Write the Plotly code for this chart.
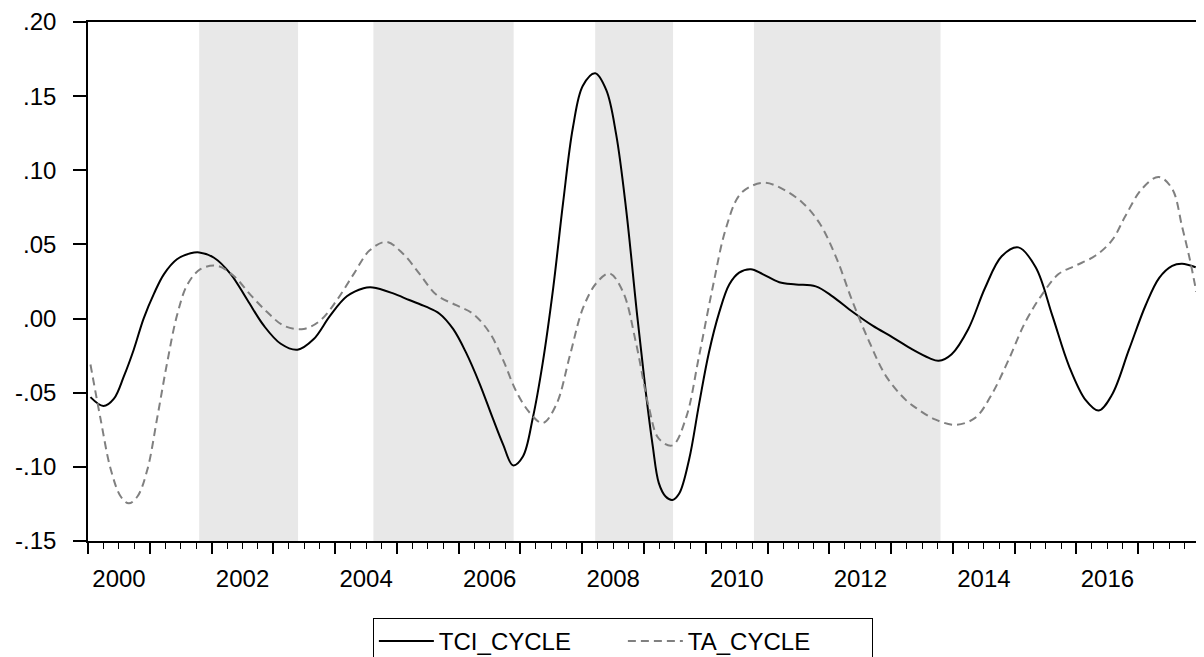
import plotly.graph_objects as go

# ---- data (decimal years) ----
tci_x = [2000.04, 2000.25, 2000.42, 2000.58, 2000.74, 2000.90, 2001.07, 2001.23, 2001.44, 2001.66,
         2001.80, 2002.04, 2002.31, 2002.58, 2002.85, 2003.12, 2003.39, 2003.65, 2003.92, 2004.19,
         2004.46, 2004.61, 2004.94, 2005.20, 2005.47, 2005.69, 2005.91, 2006.12, 2006.34, 2006.55,
         2006.72, 2006.88, 2007.04, 2007.20, 2007.36, 2007.53, 2007.69, 2007.85, 2008.01, 2008.21,
         2008.39, 2008.55, 2008.71, 2008.89, 2009.03, 2009.14, 2009.24, 2009.35, 2009.46, 2009.57,
         2009.73, 2009.89, 2010.05, 2010.22, 2010.38, 2010.54, 2010.73, 2010.92, 2011.19, 2011.46,
         2011.78, 2012.05, 2012.38, 2012.70, 2013.03, 2013.35, 2013.62, 2013.77, 2013.98, 2014.25,
         2014.52, 2014.79, 2015.06, 2015.34, 2015.61, 2015.88, 2016.15, 2016.36, 2016.58, 2016.85,
         2017.12, 2017.34, 2017.55, 2017.71, 2017.93]
tci_cycle = [-0.053, -0.059, -0.054, -0.039, -0.021, 0.000, 0.017, 0.030, 0.040, 0.044,
             0.0446, 0.041, 0.030, 0.0125, -0.005, -0.017, -0.021, -0.014, 0.002, 0.015,
             0.0205, 0.021, 0.017, 0.0125, 0.008, 0.0033, -0.007, -0.023, -0.044, -0.067,
             -0.085, -0.099, -0.093, -0.067, -0.030, 0.0206, 0.078, 0.129, 0.157, 0.1654,
             0.154, 0.124, 0.074, 0.002, -0.050, -0.0855, -0.111, -0.120, -0.1223, -0.118,
             -0.095, -0.058, -0.023, 0.0045, 0.023, 0.031, 0.0333, 0.030, 0.0245, 0.023,
             0.0217, 0.015, 0.0044, -0.0048, -0.0128, -0.021, -0.0267, -0.0285, -0.024, -0.007,
             0.0206, 0.042, 0.048, 0.0346, 0.002, -0.032, -0.055, -0.062, -0.051, -0.021,
             0.009, 0.0275, 0.0356, 0.037, 0.0346]

ta_x = [2000.04, 2000.20, 2000.37, 2000.53, 2000.66, 2000.80, 2000.96, 2001.12, 2001.28, 2001.44,
        2001.61, 2001.82, 2002.09, 2002.36, 2002.63, 2002.90, 2003.17, 2003.49, 2003.76, 2004.03,
        2004.30, 2004.56, 2004.83, 2005.10, 2005.37, 2005.64, 2005.96, 2006.23, 2006.50, 2006.72,
        2006.93, 2007.15, 2007.36, 2007.58, 2007.80, 2008.01, 2008.23, 2008.44, 2008.66, 2008.87,
        2009.08, 2009.24, 2009.46, 2009.68, 2009.89, 2010.11, 2010.32, 2010.54, 2010.76, 2010.97,
        2011.24, 2011.57, 2011.84, 2012.11, 2012.38, 2012.65, 2012.92, 2013.24, 2013.44, 2013.71,
        2014.04, 2014.36, 2014.63, 2014.90, 2015.17, 2015.44, 2015.71, 2015.98, 2016.31, 2016.58,
        2016.79, 2017.06, 2017.33, 2017.55, 2017.71, 2017.84, 2017.94]
ta_cycle = [-0.031, -0.067, -0.102, -0.120, -0.1246, -0.120, -0.102, -0.067, -0.030, 0.002,
            0.023, 0.0333, 0.0356, 0.0287, 0.016, 0.0044, -0.0048, -0.007, -0.0013, 0.0125,
            0.030, 0.046, 0.0517, 0.0437, 0.030, 0.016, 0.009, 0.0033, -0.0095, -0.028,
            -0.049, -0.0635, -0.0705, -0.058, -0.025, 0.0068, 0.024, 0.0305, 0.018, -0.0163,
            -0.060, -0.081, -0.0855, -0.067, -0.0255, 0.0206, 0.060, 0.083, 0.0898, 0.0916,
            0.0875, 0.078, 0.0644, 0.0413, 0.011, -0.016, -0.039, -0.055, -0.0613, -0.068,
            -0.0716, -0.067, -0.051, -0.028, -0.0025, 0.016, 0.030, 0.0356, 0.0425, 0.053,
            0.069, 0.0875, 0.0955, 0.0875, 0.062, 0.039, 0.018]

shade_start = [2001.80, 2004.62, 2008.21, 2010.78]
shade_end = [2003.40, 2006.89, 2009.47, 2013.80]

y_tickvals = [0.20, 0.15, 0.10, 0.05, 0.00, -0.05, -0.10, -0.15]
y_ticktext = [".20", ".15", ".10", ".05", ".00", "-.05", "-.10", "-.15"]
year_ticks = list(range(2000, 2019))
year_labels = [str(y) if (y % 2 == 0 and y < 2018) else "" for y in year_ticks]
quarter_ticks = [y + q / 4 for y in range(2000, 2018) for q in (1, 2, 3)]

FONT = "Liberation Sans, Arial, sans-serif"

fig = go.Figure()
fig.add_trace(go.Scatter(x=tci_x, y=tci_cycle, mode="lines", name="TCI_CYCLE",
                         line=dict(color="black", width=2, shape="spline", smoothing=1)))
fig.add_trace(go.Scatter(x=ta_x, y=ta_cycle, mode="lines", name="TA_CYCLE",
                         line=dict(color="#808080", width=2, dash="8px,5px", shape="spline", smoothing=1)))

for s, e in zip(shade_start, shade_end):
    fig.add_shape(type="rect", xref="x", yref="paper", x0=s, x1=e, y0=0, y1=1,
                  fillcolor="#e8e8e8", line_width=0, layer="below")

# The page body keeps its default 8px margin, so the figure is 8px smaller
# and the left/top margins are 8px less to land the plot where the reference has it.
fig.update_layout(
    template="none",
    width=1196, height=649,
    margin=dict(l=80, r=4, t=14, b=116, autoexpand=False),
    paper_bgcolor="white", plot_bgcolor="white",
    font=dict(family=FONT, size=24, color="black"),
    showlegend=True,
    legend=dict(orientation="h", x=0.481, xanchor="center", y=-0.148, yanchor="top",
                bordercolor="black", borderwidth=1, font=dict(size=24),
                entrywidth=179, entrywidthmode="pixels", itemwidth=55,
                bgcolor="white"),
)
fig.update_xaxes(range=[2000, 2018], showgrid=False, zeroline=False, automargin=False,
                 showline=True, linecolor="black", linewidth=1.5, mirror=True,
                 tickmode="array", tickvals=year_ticks, ticktext=year_labels,
                 ticks="outside", ticklen=11, tickwidth=1.5, tickcolor="black",
                 ticklabelshift=31, ticklabelstandoff=4,
                 minor=dict(tickmode="array", tickvals=quarter_ticks, ticks="outside",
                            ticklen=6, tickwidth=1.2, tickcolor="black", showgrid=False))
fig.update_yaxes(range=[-0.15, 0.20], showgrid=False, zeroline=False, automargin=False,
                 showline=True, linecolor="black", linewidth=1.5, mirror=True,
                 tickmode="array", tickvals=y_tickvals, ticktext=y_ticktext,
                 ticks="outside", ticklen=13, tickwidth=1.5, tickcolor="black",
                 ticklabelstandoff=12)

fig.write_html("out.html")
